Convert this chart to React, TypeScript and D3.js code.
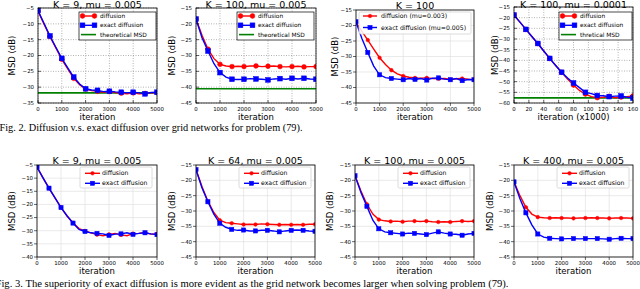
import React from "react";
import * as d3 from "d3";

// x values: iterations (every 250) and iterations x1000 (every 8)
const iters = [0, 250, 500, 750, 1000, 1250, 1500, 1750, 2000, 2250, 2500, 2750, 3000, 3250, 3500, 3750, 4000, 4250, 4500, 4750, 5000];
const itersK = [0, 8, 16, 24, 32, 40, 48, 56, 64, 72, 80, 88, 96, 104, 112, 120, 128, 136, 144, 152, 160];

// Fig. 2
const p1Diff = [-6, -10, -14, -17.6, -21.2, -24.2, -27.2, -29.2, -30.6, -31.1, -31.3, -31.6, -31.4, -31.7, -31.9, -32.1, -31.8, -32.1, -32, -31.8, -31.7];
const p1Exact = [-5.8, -9.8, -13.8, -17.4, -20.9, -23.9, -26.8, -29, -30.5, -30.9, -31, -31.4, -31.3, -31.5, -31.6, -31.8, -31.6, -31.8, -32.1, -31.7, -31.6];
const p1Theory = -31.8;

const p2Diff = [-18.5, -23.6, -28, -31, -32.8, -33.3, -33.5, -33.4, -33.5, -33.3, -33.3, -33.5, -33.4, -33.3, -33.5, -33.6, -33.5, -33.4, -33.6, -33.5, -33.5];
const p2Exact = [-18.5, -24.4, -28.6, -32.6, -35.4, -36.8, -37.5, -37.6, -37.5, -37.3, -37.4, -37.5, -37.7, -37.4, -37.3, -37.5, -37.2, -37.4, -37.2, -37.4, -37.5];
const p2Theory = -40.5;

const p3Diff = [-19, -21.9, -24.7, -27.6, -30.4, -32.6, -34.4, -35.6, -36.3, -36.7, -36.9, -37, -36.9, -37.1, -37.2, -37.1, -37.4, -37.2, -37.1, -37.3, -37.4];
const p3Exact = [-18.8, -24.2, -28.7, -33.1, -35.9, -36.8, -37.1, -37.3, -37.5, -37.1, -37.4, -37.1, -37.6, -37.0, -36.9, -37.3, -37.5, -37.1, -37.8, -37.4, -37.5];

const p4Diff = [-18.8, -22.1, -25.5, -28.8, -32.1, -35.6, -39.1, -42.4, -45.6, -48.8, -51.6, -54.1, -55.8, -57, -57.5, -57.3, -56.9, -57.5, -57.2, -57, -56.7];
const p4Exact = [-18.8, -22.1, -25.5, -28.8, -32.1, -35.6, -39.1, -42.4, -45.6, -48.3, -50.6, -52.8, -55, -55.6, -56.5, -56.6, -57, -56.8, -56.7, -57.3, -57.7];
const p4Theory = -57.6;

// Fig. 3
const p5Diff = [-5.8, -9.9, -13.8, -17.5, -21.1, -24.4, -27, -29.2, -30.1, -30.8, -31.5, -31.9, -31.4, -31, -31.6, -31.9, -31.1, -31, -30.7, -31.3, -31.2];
const p5Exact = [-5.8, -9.9, -13.8, -17.5, -21.2, -24.3, -27.1, -29.5, -30.3, -30.8, -31, -31.2, -31.8, -31.3, -31.2, -30.8, -31.4, -31, -30.8, -31.2, -31.5];

const p6Diff = [-16.5, -22, -26.8, -30.5, -33, -33.8, -34, -34.2, -34.4, -34.3, -34.4, -34.2, -34.3, -34.4, -34.5, -34.4, -34.5, -34.4, -34.5, -34.3, -34.3];
const p6Exact = [-16.5, -22.4, -27, -31, -34, -35.3, -36, -36.3, -36.2, -36.5, -36.5, -36.3, -36.3, -36.5, -36.8, -36.5, -36.3, -36.2, -36.3, -36.5, -36.6];

const p7Diff = [-18.5, -23.5, -27.8, -31, -32.8, -33.2, -33.4, -33.3, -33.5, -33.3, -33.3, -33.4, -33.3, -33.5, -33.6, -33.5, -33.6, -33.4, -33.3, -33.4, -33.3];
const p7Exact = [-18.5, -24, -28.5, -33, -35.8, -36.8, -37.1, -37.3, -37.5, -37.2, -37.3, -37.5, -37.7, -37.2, -36.8, -37.2, -37.5, -37.6, -37.9, -37.5, -37.3];

const p8Diff = [-20.5, -25, -28.8, -31, -32, -32.2, -32.3, -32.2, -32.3, -32.3, -32.4, -32.3, -32.3, -32.2, -32.3, -32.3, -32.4, -32.3, -32.3, -32.3, -32.4];
const p8Exact = [-20.5, -26, -30.6, -34.5, -37.5, -38.5, -38.9, -39, -39.1, -39, -39, -39.1, -39, -39, -39, -39.1, -39.2, -39, -38.9, -39, -39];

const iterTicks = [0, 1000, 2000, 3000, 4000, 5000];
const iterKTicks = [0, 20, 40, 60, 80, 100, 120, 140, 160];
const ticks5to35 = [-35, -30, -25, -20, -15, -10, -5];
const ticks5to40 = [-40, -35, -30, -25, -20, -15, -10, -5];
const ticks15to45 = [-45, -40, -35, -30, -25, -20, -15];
const ticks15to60 = [-60, -55, -50, -45, -40, -35, -30, -25, -20, -15];

const RED = "#ff0000";
const BLUE = "#0000ff";
const GREEN = "#008000";
const FONT = "DejaVu Sans, sans-serif";

type Panel = {
  id: string;
  box: [number, number, number, number]; // left, top, right, bottom
  xs: number[];
  xDomain: [number, number];
  xTicks: number[];
  yDomain: [number, number];
  yTicks: number[];
  title: string;
  titleY: number;
  xlabel: string;
  ylabelOff: number;
  diff: number[];
  exact: number[];
  theory?: number;
  labels: string[];
  classic: boolean;
  legend: { x: number; y: number; w: number; h: number; rows: number[]; hx0: number; hx1: number; tx: number; fs: number };
};

const fmt = (v: number) => (v < 0 ? "\u2212" + Math.abs(v) : String(v));

const panels: Panel[] = [
  {
    id: "p1", box: [38, 8, 157, 103], xs: iters, xDomain: [0, 5000], xTicks: iterTicks,
    yDomain: [-35, -5], yTicks: ticks5to35, title: "K = 9, mu = 0.005", titleY: 7.5, xlabel: "iteration", ylabelOff: 26,
    diff: p1Diff, exact: p1Exact, theory: p1Theory, labels: ["diffusion", "exact diffusion", "theoretical MSD"], classic: true,
    legend: { x: 79, y: 12, w: 77, h: 28, rows: [16, 25.3, 34.6], hx0: 2, hx1: 17, tx: 21, fs: 5.9 },
  },
  {
    id: "p2", box: [196, 8, 316, 103], xs: iters, xDomain: [0, 5000], xTicks: iterTicks,
    yDomain: [-45, -15], yTicks: ticks15to45, title: "K = 100, mu = 0.005", titleY: 7.5, xlabel: "iteration", ylabelOff: 24,
    diff: p2Diff, exact: p2Exact, theory: p2Theory, labels: ["diffusion", "exact diffusion", "theoretical MSD"], classic: true,
    legend: { x: 237, y: 12, w: 77, h: 28, rows: [16, 25.3, 34.6], hx0: 2, hx1: 17, tx: 21, fs: 5.9 },
  },
  {
    id: "p3", box: [356, 10, 474, 103], xs: iters, xDomain: [0, 5000], xTicks: iterTicks,
    yDomain: [-45, -15], yTicks: ticks15to45, title: "K = 100", titleY: 8.5, xlabel: "iteration", ylabelOff: 21,
    diff: p3Diff, exact: p3Exact, labels: ["diffusion (mu=0.003)", "exact diffusion (mu=0.005)"], classic: false,
    legend: { x: 359, y: 12, w: 112, h: 22, rows: [16, 27.5], hx0: 4, hx1: 18, tx: 22, fs: 6.2 },
  },
  {
    id: "p4", box: [514, 7, 633, 103], xs: itersK, xDomain: [0, 160], xTicks: iterKTicks,
    yDomain: [-60, -15], yTicks: ticks15to60, title: "K = 100, mu = 0.0001", titleY: 7.5, xlabel: "iteration (x1000)", ylabelOff: 19,
    diff: p4Diff, exact: p4Exact, theory: p4Theory, labels: ["diffusion", "exact diffusion", "thretical MSD"], classic: true,
    legend: { x: 559, y: 12, w: 73, h: 28, rows: [16, 25.3, 34.6], hx0: 2, hx1: 17, tx: 21, fs: 5.9 },
  },
  {
    id: "p5", box: [37, 165, 157, 257], xs: iters, xDomain: [0, 5000], xTicks: iterTicks,
    yDomain: [-40, -5], yTicks: ticks5to40, title: "K = 9, mu = 0.005", titleY: 163.5, xlabel: "iteration", ylabelOff: 25,
    diff: p5Diff, exact: p5Exact, labels: ["diffusion", "exact diffusion"], classic: false,
    legend: { x: 80, y: 167, w: 72, h: 21, rows: [173.3, 183.3], hx0: 5, hx1: 20, tx: 22, fs: 6.2 },
  },
  {
    id: "p6", box: [196, 165, 315, 257], xs: iters, xDomain: [0, 5000], xTicks: iterTicks,
    yDomain: [-45, -15], yTicks: ticks15to45, title: "K = 64, mu = 0.005", titleY: 163.5, xlabel: "iteration", ylabelOff: 24,
    diff: p6Diff, exact: p6Exact, labels: ["diffusion", "exact diffusion"], classic: false,
    legend: { x: 239, y: 167, w: 72, h: 21, rows: [173.3, 183.3], hx0: 5, hx1: 20, tx: 22, fs: 6.2 },
  },
  {
    id: "p7", box: [355, 165, 474, 257], xs: iters, xDomain: [0, 5000], xTicks: iterTicks,
    yDomain: [-45, -15], yTicks: ticks15to45, title: "K = 100, mu = 0.005", titleY: 163.5, xlabel: "iteration", ylabelOff: 25,
    diff: p7Diff, exact: p7Exact, labels: ["diffusion", "exact diffusion"], classic: false,
    legend: { x: 398, y: 167, w: 72, h: 21, rows: [173.3, 183.3], hx0: 5, hx1: 20, tx: 22, fs: 6.2 },
  },
  {
    id: "p8", box: [514, 165, 633, 257], xs: iters, xDomain: [0, 5000], xTicks: iterTicks,
    yDomain: [-45, -15], yTicks: ticks15to45, title: "K = 400, mu = 0.005", titleY: 163.5, xlabel: "iteration", ylabelOff: 24,
    diff: p8Diff, exact: p8Exact, labels: ["diffusion", "exact diffusion"], classic: false,
    legend: { x: 557, y: 167, w: 72, h: 21, rows: [173.3, 183.3], hx0: 5, hx1: 20, tx: 22, fs: 6.2 },
  },
];

function Circle({ cx, cy, r }: { cx: number; cy: number; r: number }) {
  return <circle cx={cx} cy={cy} r={r} fill={RED} stroke={RED} strokeWidth={0.5} />;
}
function Square({ cx, cy, s }: { cx: number; cy: number; s: number }) {
  return <rect x={cx - s / 2} y={cy - s / 2} width={s} height={s} fill={BLUE} stroke={BLUE} strokeWidth={0.5} />;
}

function Chart({ p }: { p: Panel }) {
  const [l, t, r, b] = p.box;
  const x = d3.scaleLinear().domain(p.xDomain).range([l, r]);
  const y = d3.scaleLinear().domain(p.yDomain).range([b, t]);
  const line = d3.line<number>().x((_, i) => x(p.xs[i])).y((d) => y(d));
  const cr = p.classic ? 2.4 : 1.8;
  const sq = p.classic ? 4.8 : 4.2;
  const lw = 1.4;
  const tickLen = 3;
  const tickDir = p.classic ? -1 : 1; // classic ticks point inward
  const marked = p.diff.map((_, i) => i).filter((i) => i % 2 === 0);
  const lg = p.legend;
  const cx0 = (l + r) / 2;

  return (
    <g>
      <defs>
        <clipPath id={"clip-" + p.id}>
          <rect x={l} y={t} width={r - l} height={b - t} />
        </clipPath>
      </defs>
      <rect x={l} y={t} width={r - l} height={b - t} fill="#fff" />
      {/* grid */}
      <g stroke={p.classic ? "#666" : "#dcdcdc"} strokeWidth={p.classic ? 0.5 : 0.6} strokeDasharray={p.classic ? "1,1.5" : undefined}>
        {p.xTicks.map((v) => (
          <line key={"gx" + v} x1={x(v)} x2={x(v)} y1={t} y2={b} />
        ))}
        {p.yTicks.map((v) => (
          <line key={"gy" + v} x1={l} x2={r} y1={y(v)} y2={y(v)} />
        ))}
      </g>
      {/* series */}
      <g clipPath={`url(#clip-${p.id})`}>
        {p.theory !== undefined && (
          <line x1={l} x2={r} y1={y(p.theory)} y2={y(p.theory)} stroke={GREEN} strokeWidth={1.6} />
        )}
        <path d={line(p.diff) || ""} fill="none" stroke={RED} strokeWidth={lw} />
        {marked.map((i) => (
          <Circle key={"c" + i} cx={x(p.xs[i])} cy={y(p.diff[i])} r={cr} />
        ))}
        <path d={line(p.exact) || ""} fill="none" stroke={BLUE} strokeWidth={lw} />
        {marked.map((i) => (
          <Square key={"s" + i} cx={x(p.xs[i])} cy={y(p.exact[i])} s={sq} />
        ))}
      </g>
      {/* frame */}
      <rect x={l} y={t} width={r - l} height={b - t} fill="none" stroke="#000" strokeWidth={0.8} />
      {/* ticks */}
      <g stroke="#000" strokeWidth={0.6}>
        {p.xTicks.map((v) => (
          <line key={"tx" + v} x1={x(v)} x2={x(v)} y1={b} y2={b + tickDir * tickLen} />
        ))}
        {p.yTicks.map((v) => (
          <line key={"ty" + v} x1={l} x2={l - tickDir * tickLen} y1={y(v)} y2={y(v)} />
        ))}
      </g>
      <g fontFamily={FONT} fontSize={5.4} fill="#000">
        {p.xTicks.map((v) => (
          <text key={"lx" + v} x={x(v)} y={b + 8} textAnchor="middle">
            {fmt(v)}
          </text>
        ))}
        {p.yTicks.map((v) => (
          <text key={"ly" + v} x={l - 4} y={y(v) + 1.9} textAnchor="end">
            {fmt(v)}
          </text>
        ))}
      </g>
      <text x={cx0} y={p.titleY} textAnchor="middle" fontFamily={FONT} fontSize={9.5}>
        {p.title}
      </text>
      <text x={cx0} y={b + 16.5} textAnchor="middle" fontFamily={FONT} fontSize={8.5}>
        {p.xlabel}
      </text>
      <text
        transform={`translate(${l - p.ylabelOff + 3.2},${(t + b) / 2}) rotate(-90)`}
        textAnchor="middle"
        fontFamily={FONT}
        fontSize={8.5}
      >
        MSD (dB)
      </text>
      {/* legend */}
      <g>
        <rect
          x={lg.x}
          y={lg.y}
          width={lg.w}
          height={lg.h}
          rx={p.classic ? 0 : 1.5}
          fill="#fff"
          fillOpacity={p.classic ? 1 : 0.85}
          stroke={p.classic ? "#000" : "#cccccc"}
          strokeWidth={0.7}
        />
        {p.labels.map((lab, k) => {
          const yy = lg.rows[k];
          const hx0 = lg.x + lg.hx0;
          const hx1 = lg.x + lg.hx1;
          const color = k === 0 ? RED : k === 1 ? BLUE : GREEN;
          return (
            <g key={lab}>
              <line x1={hx0} x2={hx1} y1={yy} y2={yy} stroke={color} strokeWidth={k === 2 ? 1.6 : lw} />
              {k < 2 &&
                (p.classic ? [hx0 + 1.5, hx1 - 1.5] : [(hx0 + hx1) / 2]).map((mx) =>
                  k === 0 ? <Circle key={mx} cx={mx} cy={yy} r={cr} /> : <Square key={mx} cx={mx} cy={yy} s={sq} />
                )}
              <text x={lg.x + lg.tx} y={yy + 2.1} fontFamily={FONT} fontSize={lg.fs}>
                {lab}
              </text>
            </g>
          );
        })}
      </g>
    </g>
  );
}

export default function App() {
  return (
    <svg width={640} height={289} style={{ position: "absolute", left: 0, top: 0, background: "#fff" }}>
      <rect x={0} y={0} width={640} height={289} fill="#fff" />
      {panels.map((p) => (
        <Chart key={p.id} p={p} />
      ))}
      <text x={-0.5} y={131} fontFamily="Liberation Serif, Times New Roman, serif" fontSize={10} textLength={303} lengthAdjust="spacingAndGlyphs">
        Fig. 2. Diffusion v.s. exact diffusion over grid networks for problem (79).
      </text>
      <text x={-4.5} y={286.5} fontFamily="Liberation Serif, Times New Roman, serif" fontSize={10} textLength={513} lengthAdjust="spacingAndGlyphs">
        Fig. 3. The superiority of exact diffusion is more evident as the grid network becomes larger when solving problem (79).
      </text>
    </svg>
  );
}
